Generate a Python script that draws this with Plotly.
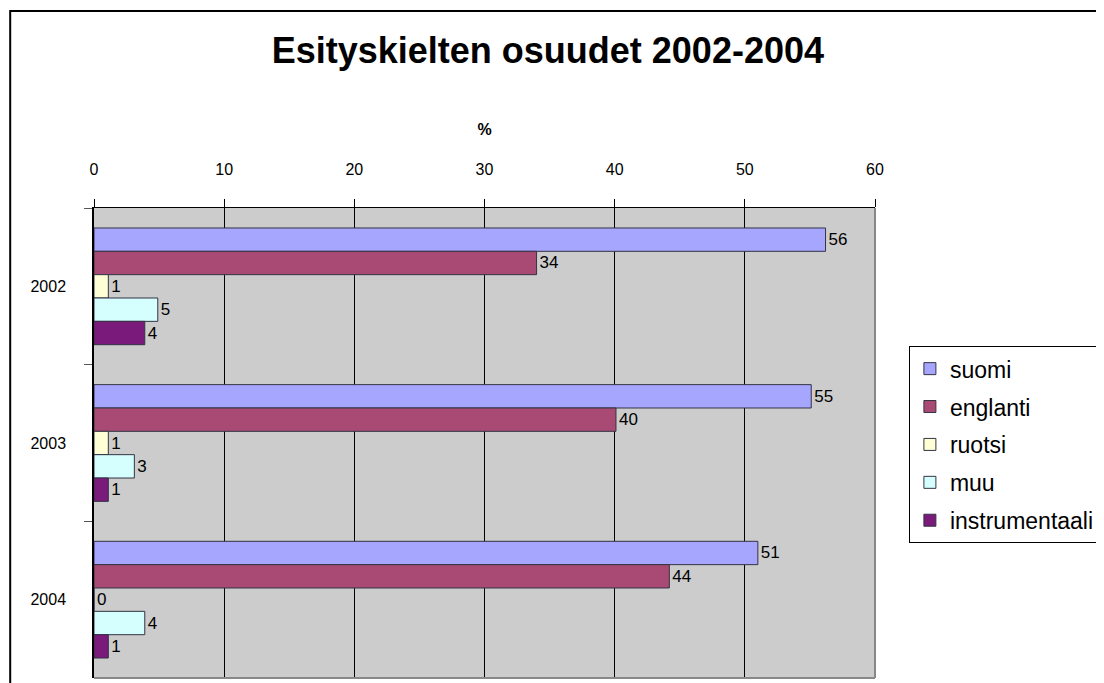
import plotly.graph_objects as go

# data (percent shares per year)
years = ["2002", "2003", "2004"]
suomi = [56.2, 55.1, 51.0]
englanti = [34.0, 40.1, 44.2]
ruotsi = [1.1, 1.1, 0.0]
muu = [4.9, 3.1, 3.9]
instrumentaali = [3.9, 1.1, 1.1]
x_ticks = [0, 10, 20, 30, 40, 50, 60]

series = [
    ("suomi", suomi, "#a6a6fe"),
    ("englanti", englanti, "#a94a74"),
    ("ruotsi", ruotsi, "#ffffd5"),
    ("muu", muu, "#d5ffff"),
    ("instrumentaali", instrumentaali, "#7a1a7a"),
]

font = "Liberation Sans, Arial, sans-serif"

fig = go.Figure()
for name, vals, col in series:
    fig.add_trace(go.Bar(
        y=years, x=vals, name=name, orientation="h",
        legendgroup=name,
        marker=dict(color=col, line=dict(color="#333344", width=1)),
        text=vals, texttemplate="%{x:.0f}", textposition="outside",
        textfont=dict(size=17, color="black", family=font),
        constraintext="none", cliponaxis=False,
    ))

# the page has an 8px body margin, so the layout is shifted up/left by 8px
fig.update_layout(
    width=1104, height=683,
    margin=dict(l=86, r=235, t=200, b=13),
    paper_bgcolor="white", plot_bgcolor="#cccccc",
    font=dict(family=font, size=16, color="black"),
    barmode="group", bargap=0.255, bargroupgap=0,
    title=dict(text="<b>Esityskielten osuudet 2002-2004</b>",
               x=0.489, xanchor="center", y=0.9385, yanchor="middle",
               font=dict(size=36, family=font)),
    legend=dict(x=1.0434, xanchor="left", y=0.706, yanchor="top",
                bordercolor="black", borderwidth=1, bgcolor="white",
                font=dict(size=23, family=font),
                traceorder="grouped", tracegroupgap=5,
                entrywidth=240),
    showlegend=True,
)

fig.update_xaxes(
    side="top", range=[0, 60], tickvals=x_ticks,
    showgrid=True, gridcolor="black", gridwidth=1, zeroline=False,
    showline=True, linecolor="black", linewidth=1,
    ticks="outside", ticklen=8, tickcolor="black",
    tickfont=dict(size=16), ticklabelstandoff=18,
    title=dict(text="<b>%</b>", font=dict(size=16), standoff=20),
)
fig.update_yaxes(
    type="category", autorange="reversed",
    showgrid=False, zeroline=False,
    showline=True, linecolor="black", linewidth=1.5,
    ticks="outside", tickson="boundaries", ticklen=8, tickcolor="#555555",
    tickfont=dict(size=16), ticklabelstandoff=23,
)

# outer chart border and gray plot frame (right / bottom)
fig.add_shape(type="rect", xref="paper", yref="paper",
              x0=-0.1073, x1=1.6, y0=-0.2, y1=1.419,
              line=dict(color="black", width=2), layer="below")
fig.add_shape(type="line", xref="paper", yref="paper",
              x0=1, x1=1, y0=0, y1=1, line=dict(color="#888888", width=2))
fig.add_shape(type="line", xref="paper", yref="paper",
              x0=0, x1=1, y0=0, y1=0, line=dict(color="#888888", width=2))

fig.write_html("out.html")
